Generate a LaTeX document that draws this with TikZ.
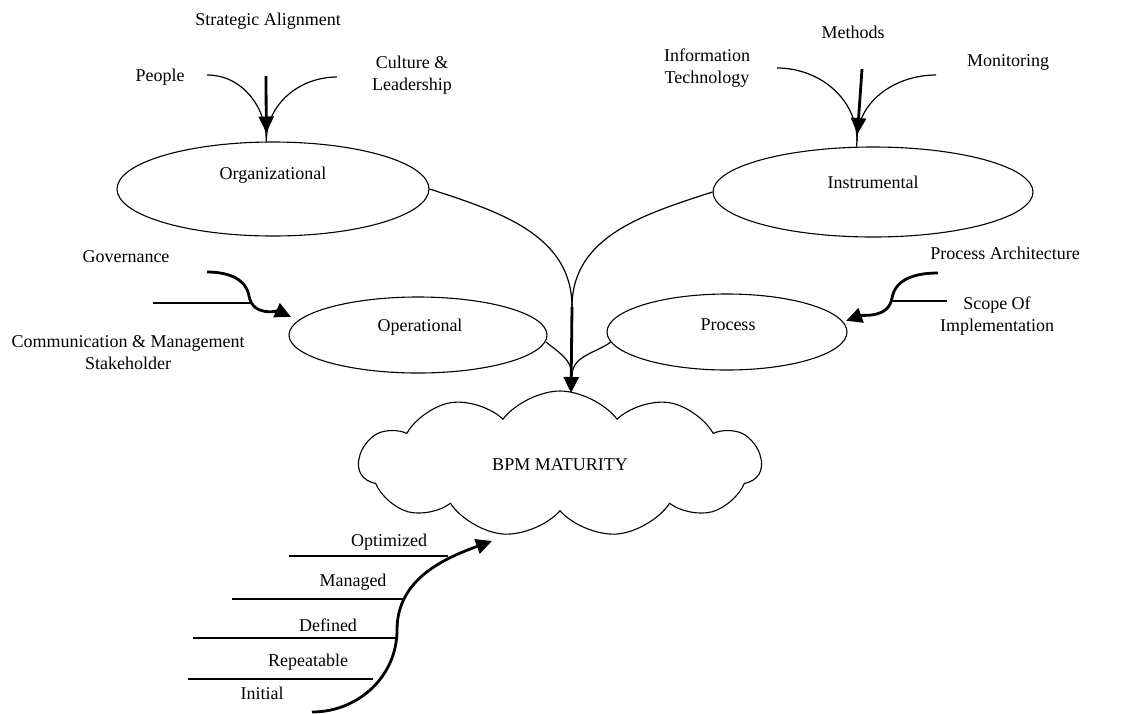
\documentclass[tikz,border=0pt]{standalone}
\usepackage{fontspec}
\setmainfont{Liberation Serif}
\usetikzlibrary{shapes.geometric,shapes.symbols,arrows.meta}
\begin{document}
\begin{tikzpicture}[x=1pt,y=-1pt,
  every node/.style={font=\fontsize{18}{22}\selectfont, inner sep=0pt, align=center},
  oval/.style={ellipse, draw, line width=1.1pt},
  thin/.style={line width=1.2pt},
  bigtip/.style={-{Triangle[length=16pt,width=15pt]}},
  thickarr/.style={line width=2.8pt, bigtip},
  lbl/.style={}
]
\useasboundingbox (0,0) rectangle (1129,713);

% ellipses
\node[oval, minimum width=312pt, minimum height=94pt] (org) at (273,189) {};
\node[lbl] (orgtxt) at (273,175) {Organizational};
\node[oval, minimum width=320pt, minimum height=90pt] (inst) at (873,192) {};
\node[lbl] (insttxt) at (873,182) {Instrumental};
\node[oval, minimum width=258pt, minimum height=76pt] (op) at (418,335) {};
\node[lbl] (optxt) at (420,327) {Operational};
\node[oval, minimum width=240pt, minimum height=76pt] (proc) at (727,332) {};
\node[lbl] (proctxt) at (728,325) {Process};

% cloud
\node[cloud, draw, line width=1.1pt, cloud puffs=11, cloud puff arc=105, aspect=2.6,
      shape border rotate=16.36,
      minimum width=402pt, minimum height=146pt] (bpm) at (560,464) {};
\node[lbl] (bpmtxt) at (560,465) {BPM MATURITY};

% top-left labels
\node[lbl] (sa) at (268,21) {Strategic Alignment};
\node[lbl] (people) at (160,77) {People};
\node[lbl] (culture) at (412,75) {Culture \&\\Leadership};
\coordinate (saS) at (266,76);
\coordinate (peopleE) at (207,75);
\coordinate (cultureW) at (337,77);
\draw[thin] (peopleE) to[out=0,in=90] (org.98);
\draw[thin] (cultureW) to[out=180,in=90] (org.98);
\draw[thickarr, shorten >=9pt] (saS) -- (org.98);

% top-right labels
\node[lbl] (methods) at (853,32) {Methods};
\node[lbl] (it) at (707,68) {Information\\Technology};
\node[lbl] (mon) at (1008,62) {Monitoring};
\coordinate (methS) at (862,69);
\coordinate (itE) at (777,68);
\coordinate (monW) at (936,75);
\coordinate (instT) at (857,141);
\draw[thin] (itE) to[out=0,in=90] (instT) -- (inst.110);
\draw[thin] (monW) to[out=180,in=90] (instT);
\draw[thickarr, shorten >=7pt] (methS) -- (instT);

% central merge
\coordinate (merge) at (572,307);
\coordinate (mergeb) at (572,376);
\coordinate (bpmtop) at (571,393);
\draw[thin] (org.east) to[out=-18,in=90] (merge);
\draw[thin] (inst.west) to[out=198,in=90] (merge);
\draw[thin] (op.-3) to[out=-40,in=90] (mergeb);
\draw[thin] (proc.185) to[out=215,in=90] (mergeb);
\draw[thickarr] (merge) -- (bpmtop);

% governance
\node[lbl] (gov) at (126,257) {Governance};
\node[lbl] (comm) at (128,353) {Communication \& Management\\Stakeholder};
\coordinate (govS) at (207,272);
\coordinate (govL) at (153,303);
\coordinate (govR) at (250,303);
\draw[thin] (govL) -- (govR);
\draw[thickarr, shorten >=8pt] (govS) to[out=0,in=100] (249,296) to[out=-80,in=155] (op.173);

% process architecture
\node[lbl] (pa) at (1005,253) {Process Architecture};
\node[lbl] (scope) at (997,316) {Scope Of\\Implementation};
\coordinate (paS) at (938,273);
\coordinate (scL) at (892,301);
\coordinate (scR) at (947,301);
\draw[thin] (scL) -- (scR);
\draw[thickarr, shorten >=3pt] (paS) to[out=180,in=80] (892,298) to[out=-100,in=20] (proc.5);

% maturity levels
\node[lbl] (opt) at (389,542) {Optimized};
\node[lbl] (man) at (353,582) {Managed};
\node[lbl] (def) at (328,625) {Defined};
\node[lbl] (rep) at (308,662) {Repeatable};
\node[lbl] (ini) at (262,693) {Initial};
\coordinate (optL) at (289,556); \coordinate (optR) at (448,556);
\coordinate (manL) at (232,599); \coordinate (manR) at (405,599);
\coordinate (defL) at (193,638); \coordinate (defR) at (396,638);
\coordinate (repL) at (188,679); \coordinate (repR) at (373,679);
\draw[thin] (optL) -- (optR);
\draw[thin] (manL) -- (manR);
\draw[thin] (defL) -- (defR);
\draw[thin] (repL) -- (repR);
\coordinate (sS) at (312,712);
\coordinate (sTip) at (492,541);
\draw[thickarr] (sS) to[out=0,in=-90] (397,630) to[out=90,in=200] (sTip);
\end{tikzpicture}
\end{document}
